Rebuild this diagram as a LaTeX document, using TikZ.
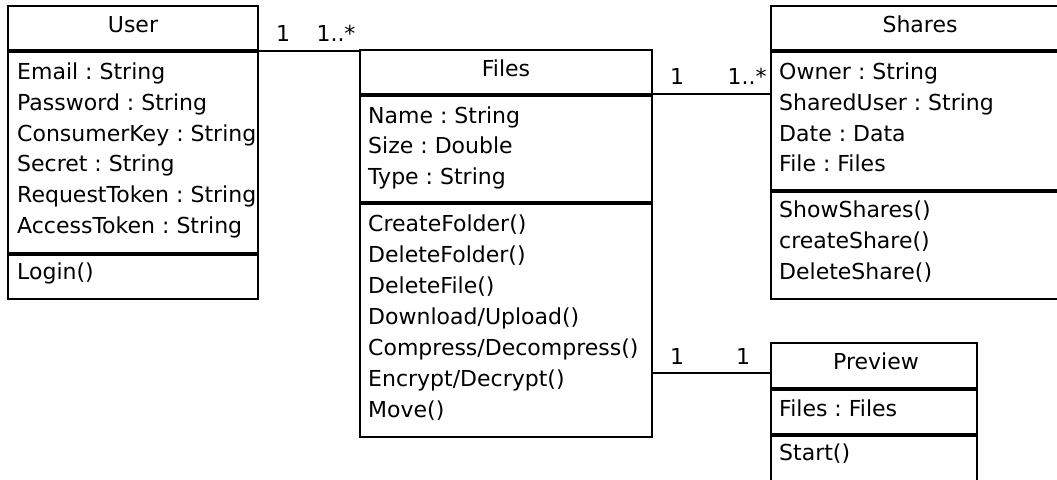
\documentclass[tikz,border=0pt]{standalone}
\usepackage{fontspec}
\setmainfont{DejaVu Sans}
\frenchspacing
\begin{document}
\begin{tikzpicture}[x=1pt,y=-1pt,
  classbox/.style={draw, line width=1.8pt, inner sep=0pt, outer sep=0pt, anchor=north west},
  sep/.style={line width=3.6pt},
  conn/.style={line width=1.6pt},
  txt/.style={inner sep=0pt, anchor=base west, font=\fontsize{22pt}{26pt}\selectfont},
  ttl/.style={inner sep=0pt, anchor=base, font=\fontsize{22pt}{26pt}\selectfont},
  mult/.style={inner sep=0pt, anchor=base, font=\fontsize{22pt}{26pt}\selectfont}]
\useasboundingbox (0,0) rectangle (1057,479);
\clip (0,0) rectangle (1057,479);

% class frames
\node[classbox, minimum width=250pt, minimum height=293pt] (user) at (8,6) {};
\node[classbox, minimum width=292pt, minimum height=387pt] (files) at (360,50) {};
\node[classbox, minimum width=298pt, minimum height=293pt] (shares) at (771,6) {};
\node[classbox, minimum width=206pt, minimum height=160pt] (preview) at (771,343) {};

% compartment separators
\draw[sep] (user.west |- 0,51) -- (user.east |- 0,51);
\draw[sep] (user.west |- 0,254) -- (user.east |- 0,254);
\draw[sep] (files.west |- 0,95) -- (files.east |- 0,95);
\draw[sep] (files.west |- 0,203) -- (files.east |- 0,203);
\draw[sep] (shares.west |- 0,51) -- (shares.east |- 0,51);
\draw[sep] (shares.west |- 0,191) -- (shares.east |- 0,191);
\draw[sep] (preview.west |- 0,389) -- (preview.east |- 0,389);
\draw[sep] (preview.west |- 0,435) -- (preview.east |- 0,435);

% User
\node[ttl] (userT) at (133,32) {User};
\node[txt] (u1) at (17,79) {Email : String};
\node[txt] (u2) at (17,110) {Password : String};
\node[txt] (u3) at (17,141) {ConsumerKey : String};
\node[txt] (u4) at (17,171) {Secret : String};
\node[txt] (u5) at (17,202) {RequestToken : String};
\node[txt] (u6) at (17,233) {AccessToken : String};
\node[txt] (u7) at (17,279) {Login()};

% Files
\node[ttl] (filesT) at (506,76) {Files};
\node[txt] (f1) at (368,123) {Name : String};
\node[txt] (f2) at (368,153) {Size : Double};
\node[txt] (f3) at (368,184) {Type : String};
\node[txt] (f4) at (368,231) {CreateFolder()};
\node[txt] (f5) at (368,262) {DeleteFolder()};
\node[txt] (f6) at (368,293) {DeleteFile()};
\node[txt] (f7) at (368,324) {Download/Upload()};
\node[txt] (f8) at (368,355) {Compress/Decompress()};
\node[txt] (f9) at (368,386) {Encrypt/Decrypt()};
\node[txt] (f10) at (368,417) {Move()};

% Shares
\node[ttl] (sharesT) at (920,32) {Shares};
\node[txt] (s1) at (779,79) {Owner : String};
\node[txt] (s2) at (779,110) {SharedUser : String};
\node[txt] (s3) at (779,141) {Date : Data};
\node[txt] (s4) at (779,171) {File : Files};
\node[txt] (s5) at (779,217) {ShowShares()};
\node[txt] (s6) at (779,248) {createShare()};
\node[txt] (s7) at (779,279) {DeleteShare()};

% Preview
\node[ttl] (previewT) at (876,369) {Preview};
\node[txt] (p1) at (779,416) {Files : Files};
\node[txt] (p2) at (779,460) {Start()};

% associations
\draw[conn] (user.east |- 0,51) -- (files.west |- 0,51);
\draw[conn] (files.east |- 0,94) -- (shares.west |- 0,94);
\draw[conn] (files.east |- 0,373) -- (preview.west |- 0,373);

% multiplicities
\node[mult] (m1) at (283,41) {1};
\node[mult] (m2) at (336,41) {1..*};
\node[mult] (m3) at (677,84) {1};
\node[mult] (m4) at (747,84) {1..*};
\node[mult] (m5) at (677,364) {1};
\node[mult] (m6) at (743,364) {1};
\end{tikzpicture}
\end{document}
